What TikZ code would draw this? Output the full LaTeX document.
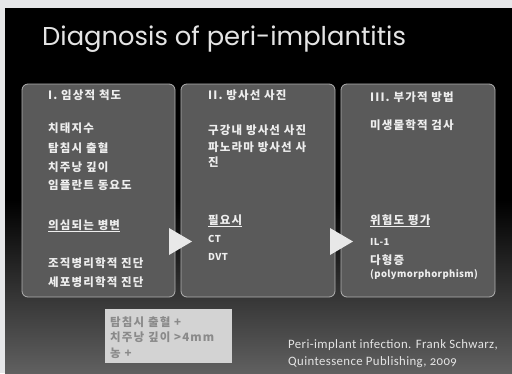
\documentclass[tikz,border=0pt]{standalone}
\usepackage{fontspec}
\usetikzlibrary{calc}
\newfontfamily\kr{Noto Sans CJK KR}[LetterSpace=10]
\newfontfamily\krsmall{Noto Sans CJK KR}[LetterSpace=4]
\newfontfamily\titlefont{Poppins}
\newfontfamily\citefont{Carlito}[Numbers=OldStyle, LetterSpace=3]
\definecolor{outerbg}{HTML}{E6E7E9}
\definecolor{boxfill}{HTML}{5A5A5A}
\definecolor{boxline}{HTML}{B0B0B0}
\definecolor{txt}{HTML}{EEEEEE}
\definecolor{titlecol}{HTML}{E4E4E4}
\definecolor{lowgray}{HTML}{606060}
\definecolor{notefill}{HTML}{D3D3D3}
\definecolor{notetext}{HTML}{8A8A8A}
\definecolor{arrowfill}{HTML}{E8E8E8}
\tikzset{
  panel/.style={draw=boxline, line width=0.8pt, fill=boxfill, rounded corners=6pt, inner sep=0pt, minimum height=213pt},
  lbl/.style={anchor=base west, inner sep=0pt, text=txt, font=\kr\bfseries\fontsize{11.5}{13}\selectfont},
  small/.style={lbl, font=\krsmall\bfseries\fontsize{9.5}{11}\selectfont},
  notelbl/.style={anchor=base west, inner sep=0pt, text=notetext, font=\kr\bfseries\fontsize{11.5}{13}\selectfont},
  cite/.style={anchor=base west, inner sep=0pt, text=titlecol, font=\citefont\fontsize{12.8}{15}\selectfont},
  tri/.style={fill=arrowfill, draw=none}
}
\begin{document}
\begin{tikzpicture}[x=1pt,y=-1pt]
\useasboundingbox (0,0) rectangle (512,373);
\fill[outerbg] (0,0) rectangle (512,373);
\fill[black] (5,8) rectangle (512,373);
\shade[top color=black, bottom color=lowgray] (5,200) rectangle (512,373);

\node[anchor=base west, inner sep=0pt, text=titlecol, font=\titlefont\fontsize{25.8}{30}\selectfont] (title) at (42,45) {Diagnosis of peri-implantitis};

\node[panel, minimum width=153pt] (b1) at (98.5,190.5) {};
\node[panel, minimum width=154pt] (b2) at (258,190.5) {};
\node[panel, minimum width=154pt] (b3) at (418,190.5) {};

\fill[tri] (169,228) -- (192,241.5) -- (169,255) -- cycle;
\fill[tri] (330,228) -- (353,241.5) -- (330,255) -- cycle;

% box 1
\node[lbl] (h1) at (48,99) {I. 임상적 척도};
\node[lbl] (a1) at (48,132) {치태지수};
\node[lbl] (a2) at (48,152) {탐침시 출혈};
\node[lbl] (a3) at (48,171) {치주낭 깊이};
\node[lbl] (a4) at (48,189) {임플란트 동요도};
\node[lbl] (a5) at (48,229) {\underline{의심되는 병변}};
\node[lbl] (a6) at (48,267) {조직병리학적 진단};
\node[lbl] (a7) at (48,286) {세포병리학적 진단};

% box 2
\node[lbl] (h2) at (208,99) {II. 방사선 사진};
\node[lbl] (c1) at (208,134) {구강내 방사선 사진};
\node[lbl] (c2) at (208,151) {파노라마 방사선 사};
\node[lbl] (c3) at (208,166) {진};
\node[lbl] (c4) at (208,224) {\underline{필요시}};
\node[small] (c5) at (208,242) {CT};
\node[small] (c6) at (208,260) {DVT};

% box 3
\node[lbl] (h3) at (370,101) {III. 부가적 방법};
\node[lbl] (d1) at (370,129) {미생물학적 검사};
\node[lbl] (d2) at (370,224) {\underline{위험도 평가}};
\node[small] (d3) at (370,245) {IL-1};
\node[lbl] (d4) at (370,264) {다형증};
\node[small] (d5) at (370,277) {(polymorphorphism)};

% note box
\node[fill=notefill, minimum width=127pt, minimum height=54pt, inner sep=0pt] (note) at (168.5,336) {};
\node[notelbl] (n1) at (110,326) {탐침시 출혈 +};
\node[notelbl] (n2) at (110,341) {치주낭 깊이 >4mm};
\node[notelbl] (n3) at (110,357) {농 +};

% citation
\node[cite] (r1) at (288,348) {Peri-implant infection. Frank Schwarz,};
\node[cite] (r2) at (288,365) {Quintessence Publishing, 2009};
\end{tikzpicture}
\end{document}
